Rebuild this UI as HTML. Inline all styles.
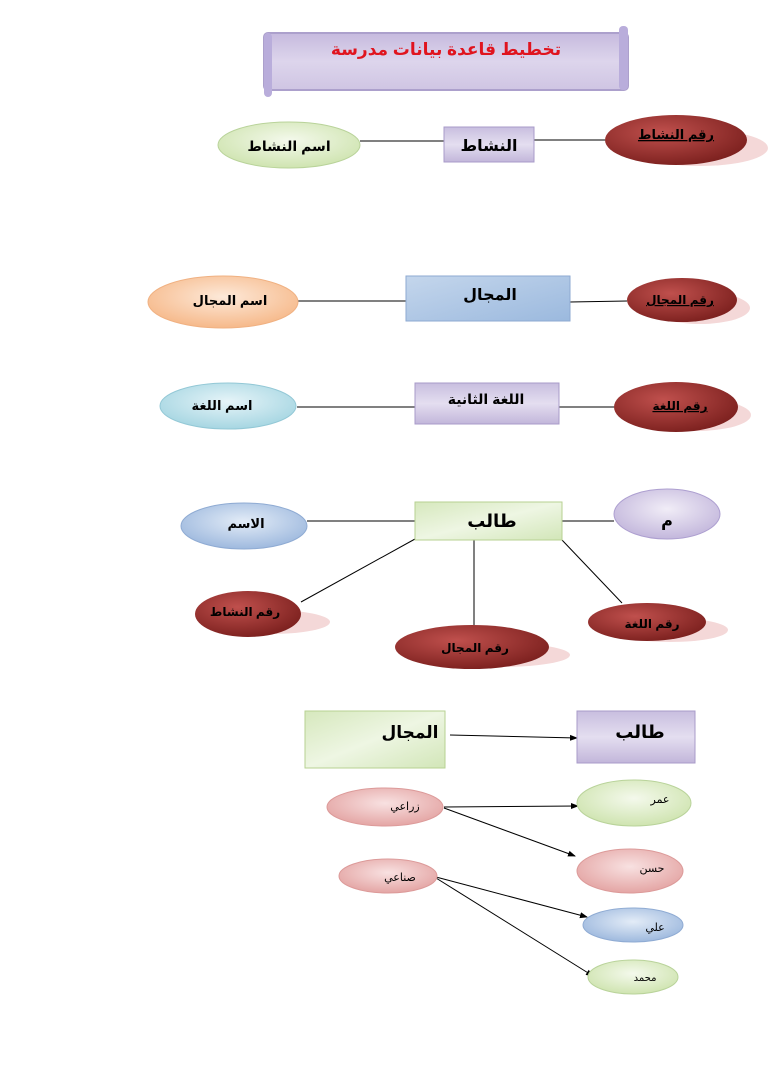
<!DOCTYPE html>
<html><head><meta charset="utf-8"><style>
html,body{margin:0;padding:0;background:#fff;width:768px;height:1087px;overflow:hidden}
text{font-family:"Liberation Sans","DejaVu Sans",sans-serif;font-weight:bold}
</style></head><body>
<svg width="768" height="1087" viewBox="0 0 768 1087" xmlns="http://www.w3.org/2000/svg">
<defs>
<linearGradient id="lav" x1="0" y1="0" x2="0" y2="1"><stop offset="0" stop-color="#c8bedf"/><stop offset="0.5" stop-color="#e4def0"/><stop offset="1" stop-color="#c2b6da"/></linearGradient>
<linearGradient id="scroll" x1="0" y1="0" x2="0" y2="1"><stop offset="0" stop-color="#c6bade"/><stop offset="0.5" stop-color="#ddd5ec"/><stop offset="1" stop-color="#cfc5e3"/></linearGradient>
<linearGradient id="blueR" x1="0" y1="0" x2="1" y2="1"><stop offset="0" stop-color="#c4d6ec"/><stop offset="1" stop-color="#9bb9de"/></linearGradient>
<linearGradient id="greenR" x1="0" y1="0" x2="1" y2="1"><stop offset="0" stop-color="#d6e8bd"/><stop offset="0.5" stop-color="#eef6e3"/><stop offset="1" stop-color="#d2e6b8"/></linearGradient>
<radialGradient id="red" cx="0.4" cy="0.35" r="0.7"><stop offset="0" stop-color="#c0504d"/><stop offset="1" stop-color="#7a1f1d"/></radialGradient>
<radialGradient id="grnE" cx="0.5" cy="0.4" r="0.6"><stop offset="0" stop-color="#f4f9ec"/><stop offset="1" stop-color="#cfe4b0"/></radialGradient>
<radialGradient id="orgE" cx="0.5" cy="0.4" r="0.6"><stop offset="0" stop-color="#fde9d9"/><stop offset="1" stop-color="#f6b98a"/></radialGradient>
<radialGradient id="cyanE" cx="0.5" cy="0.4" r="0.6"><stop offset="0" stop-color="#e6f4f8"/><stop offset="1" stop-color="#a6d6e2"/></radialGradient>
<radialGradient id="bluE" cx="0.5" cy="0.4" r="0.6"><stop offset="0" stop-color="#e3ecf7"/><stop offset="1" stop-color="#9eb9de"/></radialGradient>
<radialGradient id="lavE" cx="0.5" cy="0.4" r="0.6"><stop offset="0" stop-color="#f1edf7"/><stop offset="1" stop-color="#c3b7dc"/></radialGradient>
<radialGradient id="pinkE" cx="0.5" cy="0.4" r="0.6"><stop offset="0" stop-color="#f8e1e1"/><stop offset="1" stop-color="#e4a5a4"/></radialGradient>
<marker id="ar" markerWidth="8" markerHeight="8" refX="7" refY="4" orient="auto" markerUnits="userSpaceOnUse"><path d="M0,1 L8,4 L0,7 z" fill="#000"/></marker>
</defs>

<!-- title scroll -->
<rect x="264" y="33" width="364" height="57" rx="4" fill="url(#scroll)" stroke="#aca0cc" stroke-width="2"/>
<rect x="264" y="33" width="8" height="64" rx="4" fill="#b9addb"/>
<rect x="619" y="26" width="9" height="64" rx="4" fill="#b9addb"/>
<text x="446" y="55" font-size="17" fill="#e0141e" text-anchor="middle" direction="rtl">تخطيط قاعدة بيانات مدرسة</text>

<!-- lines -->
<g stroke="#000" stroke-width="1">
<line x1="360" y1="141" x2="444" y2="141"/><line x1="534" y1="140" x2="605" y2="140"/>
<line x1="298" y1="301" x2="406" y2="301"/><line x1="570" y1="302" x2="627" y2="301"/>
<line x1="297" y1="407" x2="415" y2="407"/><line x1="559" y1="407" x2="615" y2="407"/>
<line x1="307" y1="521" x2="415" y2="521"/><line x1="562" y1="521" x2="614" y2="521"/>
<line x1="415" y1="539" x2="301" y2="602"/><line x1="474" y1="540" x2="474" y2="625"/><line x1="562" y1="540" x2="622" y2="603"/>
<line x1="450" y1="735" x2="577" y2="738" marker-end="url(#ar)"/>
<line x1="444" y1="807" x2="578" y2="806" marker-end="url(#ar)"/>
<line x1="444" y1="808" x2="575" y2="856" marker-end="url(#ar)"/>
<line x1="436" y1="877" x2="587" y2="917" marker-end="url(#ar)"/>
<line x1="436" y1="878" x2="593" y2="976" marker-end="url(#ar)"/>
</g>

<!-- shadows for red ellipses -->
<g fill="#f0c8c8" opacity="0.7">
<ellipse cx="700" cy="148" rx="68" ry="18"/>
<ellipse cx="700" cy="308" rx="50" ry="16"/>
<ellipse cx="696" cy="415" rx="55" ry="16"/>
<ellipse cx="270" cy="622" rx="60" ry="12"/>
<ellipse cx="500" cy="655" rx="70" ry="12"/>
<ellipse cx="670" cy="630" rx="58" ry="12"/>
</g>

<!-- row1 -->
<ellipse cx="289" cy="145" rx="71" ry="23" fill="url(#grnE)" stroke="#b9d39a"/>
<text x="289" y="151" font-size="14" text-anchor="middle">اسم النشاط</text>
<rect x="444" y="127" width="90" height="35" fill="url(#lav)" stroke="#a89bc9"/>
<text x="489" y="151" font-size="16" text-anchor="middle">النشاط</text>
<ellipse cx="676" cy="140" rx="71" ry="25" fill="url(#red)"/>
<text x="676" y="139" font-size="13" text-anchor="middle" text-decoration="underline">رقم النشاط</text>

<!-- row2 -->
<ellipse cx="223" cy="302" rx="75" ry="26" fill="url(#orgE)" stroke="#f0b182"/>
<text x="230" y="305" font-size="13" text-anchor="middle">اسم المجال</text>
<rect x="406" y="276" width="164" height="45" fill="url(#blueR)" stroke="#8eaad2"/>
<text x="490" y="300" font-size="16" text-anchor="middle">المجال</text>
<ellipse cx="682" cy="300" rx="55" ry="22" fill="url(#red)"/>
<text x="680" y="304" font-size="12" text-anchor="middle" text-decoration="underline">رقم المجال</text>

<!-- row3 -->
<ellipse cx="228" cy="406" rx="68" ry="23" fill="url(#cyanE)" stroke="#93c8d6"/>
<text x="222" y="410" font-size="13" text-anchor="middle">اسم اللغة</text>
<rect x="415" y="383" width="144" height="41" fill="url(#lav)" stroke="#a89bc9"/>
<text x="486" y="404" font-size="14" text-anchor="middle">اللغة الثانية</text>
<ellipse cx="676" cy="407" rx="62" ry="25" fill="url(#red)"/>
<text x="680" y="410" font-size="12" text-anchor="middle" text-decoration="underline">رقم اللغة</text>

<!-- row4 -->
<ellipse cx="244" cy="526" rx="63" ry="23" fill="url(#bluE)" stroke="#8fabd3"/>
<text x="246" y="528" font-size="13" text-anchor="middle">الاسم</text>
<rect x="415" y="502" width="147" height="38" fill="url(#greenR)" stroke="#b7d192"/>
<text x="492" y="527" font-size="18" text-anchor="middle">طالب</text>
<ellipse cx="667" cy="514" rx="53" ry="25" fill="url(#lavE)" stroke="#ad9fd0"/>
<text x="667" y="526" font-size="16" text-anchor="middle">م</text>
<ellipse cx="248" cy="614" rx="53" ry="23" fill="url(#red)"/>
<text x="245" y="616" font-size="12" text-anchor="middle">رقم النشاط</text>
<ellipse cx="472" cy="647" rx="77" ry="22" fill="url(#red)"/>
<text x="475" y="652" font-size="12" text-anchor="middle">رقم المجال</text>
<ellipse cx="647" cy="622" rx="59" ry="19" fill="url(#red)"/>
<text x="652" y="628" font-size="12" text-anchor="middle">رقم اللغة</text>

<!-- bottom -->
<rect x="305" y="711" width="140" height="57" fill="url(#greenR)" stroke="#b7d192"/>
<text x="410" y="738" font-size="17" text-anchor="middle">المجال</text>
<rect x="577" y="711" width="118" height="52" fill="url(#lav)" stroke="#a89bc9"/>
<text x="640" y="738" font-size="18" text-anchor="middle">طالب</text>

<g font-size="11">
<ellipse cx="385" cy="807" rx="58" ry="19" fill="url(#pinkE)" stroke="#dc9a99"/>
<text x="405" y="810" text-anchor="middle" style="font-weight:normal">زراعي</text>
<ellipse cx="388" cy="876" rx="49" ry="17" fill="url(#pinkE)" stroke="#dc9a99"/>
<text x="400" y="881" text-anchor="middle" style="font-weight:normal">صناعي</text>
<ellipse cx="634" cy="803" rx="57" ry="23" fill="url(#grnE)" stroke="#b9d39a"/>
<text x="660" y="803" text-anchor="middle" style="font-weight:normal">عمر</text>
<ellipse cx="630" cy="871" rx="53" ry="22" fill="url(#pinkE)" stroke="#dc9a99"/>
<text x="652" y="872" text-anchor="middle" style="font-weight:normal">حسن</text>
<ellipse cx="633" cy="925" rx="50" ry="17" fill="url(#bluE)" stroke="#8fabd3"/>
<text x="655" y="931" text-anchor="middle" style="font-weight:normal">علي</text>
<ellipse cx="633" cy="977" rx="45" ry="17" fill="url(#grnE)" stroke="#b9d39a"/>
<text x="645" y="981" font-size="10" text-anchor="middle" style="font-weight:normal">محمد</text>
</g>
</svg>
</body></html>
